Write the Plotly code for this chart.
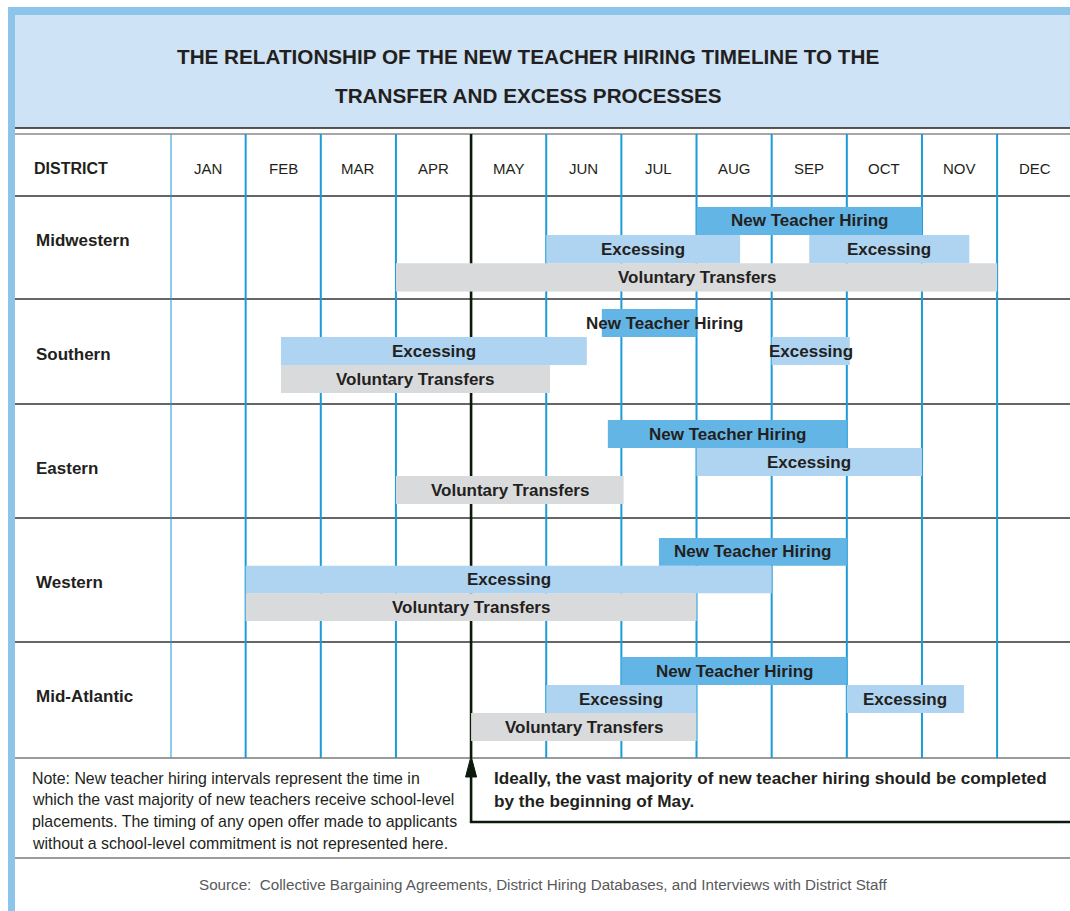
import plotly.graph_objects as go

# ---------------- data ----------------
months = ["JAN", "FEB", "MAR", "APR", "MAY", "JUN", "JUL", "AUG", "SEP", "OCT", "NOV", "DEC"]
districts = ["Midwestern", "Southern", "Eastern", "Western", "Mid-Atlantic"]
processes = ["Voluntary Transfers", "Excessing", "New Teacher Hiring"]  # bottom -> top lane

# month units: 0 = start of January, 12 = end of December
nth_district = ["Midwestern", "Southern", "Eastern", "Western", "Mid-Atlantic"]
nth_start = [7.0, 5.74, 5.82, 6.5, 6.0]
nth_end = [10.0, 7.0, 9.0, 9.0, 9.0]
nth_label_at = [None, 6.57, None, None, None]

exc_district = ["Midwestern", "Midwestern", "Southern", "Southern", "Eastern", "Western",
                "Mid-Atlantic", "Mid-Atlantic"]
exc_start = [5.0, 8.5, 1.47, 8.0, 7.0, 1.0, 5.0, 9.0]
exc_end = [7.58, 10.63, 5.54, 9.04, 10.0, 8.0, 7.0, 10.56]
exc_label_at = [None] * 8

vt_district = ["Midwestern", "Southern", "Eastern", "Western", "Mid-Atlantic"]
vt_start = [3.0, 1.47, 3.0, 1.0, 4.0]
vt_end = [11.0, 5.05, 6.03, 7.0, 7.0]
vt_label_at = [None] * 5

title_lines = ["THE RELATIONSHIP OF THE NEW TEACHER HIRING TIMELINE TO THE",
               "TRANSFER AND EXCESS PROCESSES"]
note_lines = ["Note: New teacher hiring intervals represent the time in",
              "which the vast majority of new teachers receive school-level",
              "placements. The timing of any open offer made to applicants",
              "without a school-level commitment is not represented here."]
ideal_lines = ["Ideally, the vast majority of new teacher hiring should be completed",
               "by the beginning of May."]
source_text = "Source:  Collective Bargaining Agreements, District Hiring Databases, and Interviews with District Staff"
may_index = 4

# ---------------- style / layout ----------------
OFF = 0                      # body margin is removed below
W, H = 1070, 911
FONT = "Liberation Sans, Arial, sans-serif"
TXT = "#231F20"
C_NTH, C_EXC, C_VT = "#62B5E5", "#AED4F1", "#D9DADC"
GRID_BLUE = "#1B9BD7"
DARK = "#0B1A0B"
HEADER_FILL = "#CEE3F6"
STRIP = "#8CC4EA"

X_LEFT = 170.5      # page pixel of Jan start
X_MAX = 11.97       # axis range end at right edge
# bar bands (top, bottom) in page px per district row, and row separator lines
bands = [(206.7, 291.7), (309, 393), (420, 504), (538, 621), (657, 741)]
name_dy = [-9, 3, 6, 3, -3]
row_lines = [196, 299, 404, 518, 642]


def X(p):
    return (p - OFF) / W


def Y(p):
    return 1 - (p - OFF) / H


fig = go.Figure()
shapes, annotations = [], []

colors = {"New Teacher Hiring": C_NTH, "Excessing": C_EXC, "Voluntary Transfers": C_VT}
series = [("Voluntary Transfers", vt_district, vt_start, vt_end, vt_label_at),
          ("Excessing", exc_district, exc_start, exc_end, exc_label_at),
          ("New Teacher Hiring", nth_district, nth_start, nth_end, nth_label_at)]

for name, dist, s, e, lab in series:
    for di, d in enumerate(districts):
        idx = [i for i, dd in enumerate(dist) if dd == d]
        if not idx:
            continue
        yref = "y" if di == 0 else f"y{di + 1}"
        fig.add_trace(go.Bar(
            orientation="h",
            y=[name] * len(idx),
            x=[e[i] - s[i] for i in idx],
            base=[s[i] for i in idx],
            width=1.0,
            marker=dict(color=colors[name], line=dict(width=0)),
            xaxis="x", yaxis=yref, showlegend=False, hoverinfo="skip",
        ))
        for i in idx:
            cx = lab[i] if lab[i] is not None else (s[i] + e[i]) / 2
            annotations.append(dict(
                x=cx, y=processes.index(name), xref="x", yref=yref,
                text=f"<b>{name}</b>", showarrow=False,
                font=dict(family=FONT, size=17, color=TXT),
                xanchor="center", yanchor="middle"))

# frame
shapes.append(dict(type="rect", xref="paper", yref="paper", x0=X(15), x1=1, y0=Y(128), y1=Y(15),
                   fillcolor=HEADER_FILL, line=dict(width=0), layer="below"))
shapes.append(dict(type="rect", xref="paper", yref="paper", x0=X(8), x1=1, y0=Y(15), y1=Y(7),
                   fillcolor=STRIP, line=dict(width=0), layer="below"))
shapes.append(dict(type="rect", xref="paper", yref="paper", x0=X(8), x1=X(15), y0=0, y1=Y(7),
                   fillcolor=STRIP, line=dict(width=0), layer="below"))


def hline(yp, color, width):
    shapes.append(dict(type="line", xref="paper", yref="paper", x0=X(15), x1=1, y0=Y(yp), y1=Y(yp),
                       line=dict(color=color, width=width), layer="below"))


hline(128, "#231F20", 1.5)
hline(134, "#8A8A8A", 1.5)
for r in row_lines:
    hline(r, "#333333", 1.5)
hline(758, "#7A7A7A", 1.5)
hline(858, "#7A7A7A", 1.5)

# month boundary lines
for m in range(len(months)):
    is_may = (m == may_index)
    shapes.append(dict(type="line", xref="x", yref="paper", x0=m, x1=m, y0=Y(758), y1=Y(134),
                       line=dict(color=DARK if is_may else GRID_BLUE, width=2.6 if is_may else 2),
                       layer="below"))

# arrow from footer up to the May line
aw = 5.5 / ((1070 - X_LEFT) / X_MAX)
shapes.append(dict(type="path", xref="x", yref="paper",
                   path=f"M {may_index - aw},{Y(777)} L {may_index},{Y(756)} L {may_index + aw},{Y(777)} Z",
                   fillcolor=DARK, line=dict(color=DARK, width=1)))
shapes.append(dict(type="line", xref="x", yref="paper", x0=may_index, x1=may_index,
                   y0=Y(823), y1=Y(775), line=dict(color=DARK, width=2.6)))
shapes.append(dict(type="line", xref="x", yref="paper", x0=may_index - 0.015, x1=X_MAX,
                   y0=Y(822), y1=Y(822), line=dict(color=DARK, width=2.6)))

# title
for i, t in enumerate(title_lines):
    annotations.append(dict(x=X(528), y=Y(57 + 38 * i), xref="paper", yref="paper",
                            text=f"<b>{t}</b>", showarrow=False, xanchor="center", yanchor="middle",
                            font=dict(family=FONT, size=20.7, color=TXT)))
annotations.append(dict(x=X(32), y=Y(168), xref="paper", yref="paper", text="<b>DISTRICT</b>",
                        showarrow=False, xanchor="left", yanchor="middle",
                        font=dict(family=FONT, size=16, color=TXT)))
for m, lab in enumerate(months):
    annotations.append(dict(x=m + 0.5, y=Y(168), xref="x", yref="paper", text=lab,
                            showarrow=False, xanchor="center", yanchor="middle",
                            font=dict(family=FONT, size=15, color=TXT)))
for di, d in enumerate(districts):
    t, b = bands[di]
    annotations.append(dict(x=X(34), y=Y((t + b) / 2 + name_dy[di]), xref="paper", yref="paper",
                            text=f"<b>{d}</b>", showarrow=False, xanchor="left", yanchor="middle",
                            font=dict(family=FONT, size=17, color=TXT)))
for i, t in enumerate(note_lines):
    annotations.append(dict(x=X(30), y=Y(778 + 21.7 * i), xref="paper", yref="paper", text=t,
                            showarrow=False, xanchor="left", yanchor="middle",
                            font=dict(family=FONT, size=15.9, color=TXT)))
for i, t in enumerate(ideal_lines):
    annotations.append(dict(x=X(492), y=Y(778 + 23 * i), xref="paper", yref="paper", text=f"<b>{t}</b>",
                            showarrow=False, xanchor="left", yanchor="middle",
                            font=dict(family=FONT, size=17.2, color=TXT)))
annotations.append(dict(x=X(543), y=Y(884), xref="paper", yref="paper", text=source_text,
                        showarrow=False, xanchor="center", yanchor="middle",
                        font=dict(family=FONT, size=15.2, color="#58595B")))

layout = dict(
    width=W, height=H, margin=dict(l=0, r=0, t=0, b=0),
    paper_bgcolor="white", plot_bgcolor="rgba(0,0,0,0)",
    barmode="overlay", showlegend=False,
    font=dict(family=FONT, color=TXT),
    shapes=shapes, annotations=annotations,
    xaxis=dict(domain=[X(X_LEFT), 1], range=[0, X_MAX], visible=False, fixedrange=True),
)
for di in range(len(districts)):
    t, b = bands[di]
    key = "yaxis" if di == 0 else f"yaxis{di + 1}"
    layout[key] = dict(domain=[Y(b), Y(t)], type="category", categoryarray=processes,
                       categoryorder="array", range=[-0.5, 2.5], visible=False,
                       anchor="x", fixedrange=True)
fig.update_layout(**layout)
fig.write_html("out.html", config={"displayModeBar": False},
               post_script="document.body.style.margin='0';"
                           "document.documentElement.style.overflow='hidden';")
